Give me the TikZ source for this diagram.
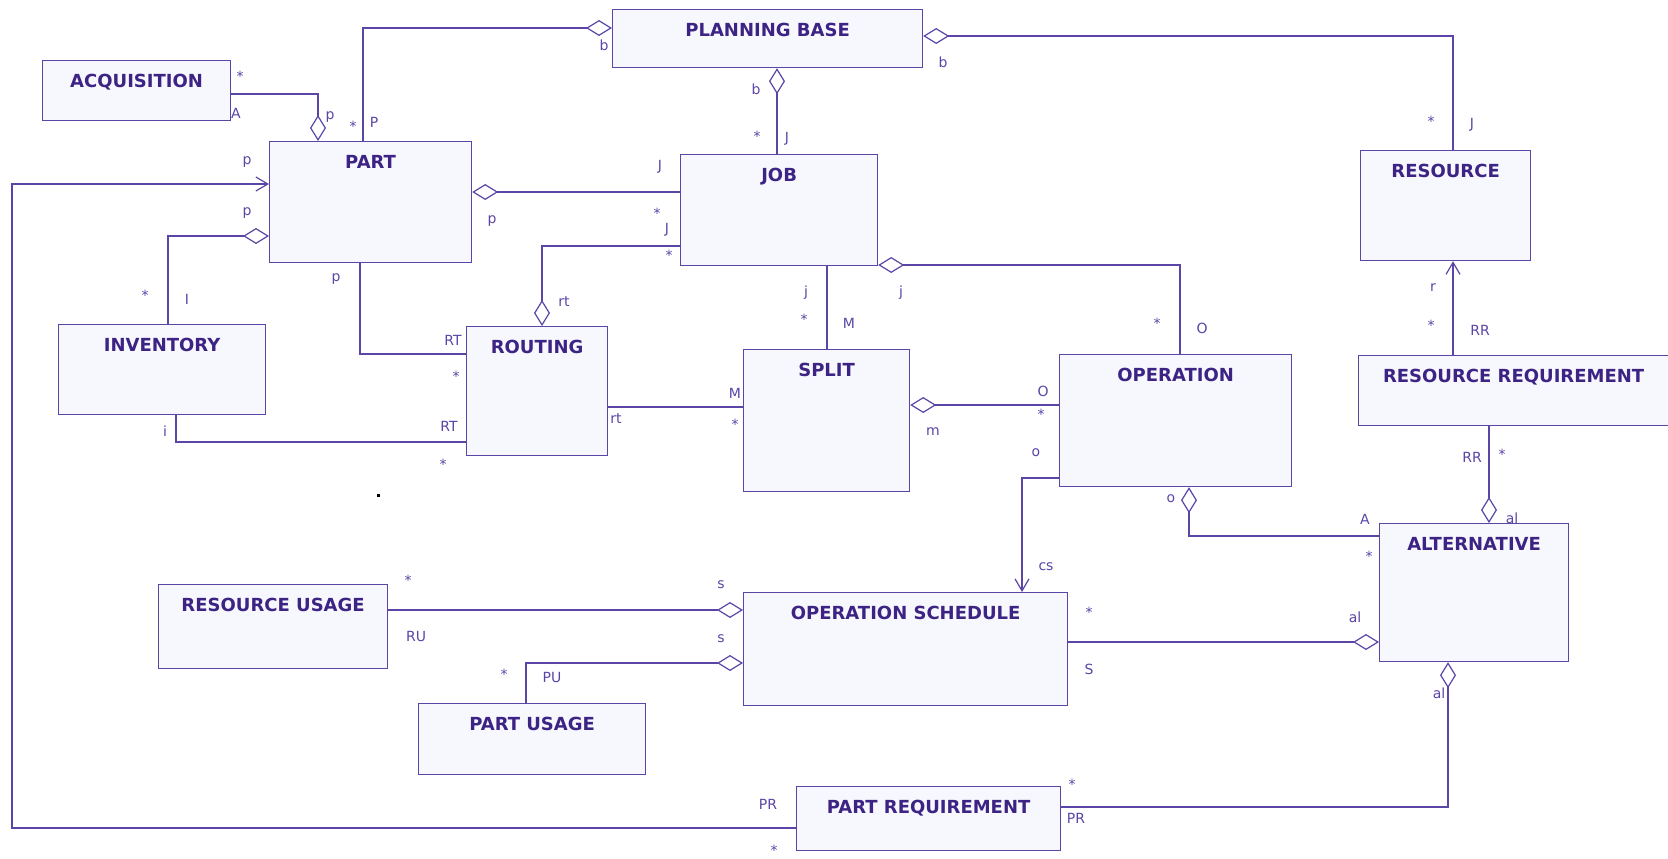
\documentclass[tikz,border=0pt]{standalone}
\usepackage{fontspec}
\setmainfont{DejaVu Sans}
\usetikzlibrary{arrows.meta}
\definecolor{umlline}{HTML}{5B45A6}
\definecolor{umltext}{HTML}{3C2384}
\definecolor{umlfill}{HTML}{F7F8FD}

\begin{document}
\begin{tikzpicture}[x=0.5pt,y=-0.5pt,
  cls/.style={draw=umlline,fill=umlfill,line width=0.6pt,anchor=north west,inner sep=0pt},
  ttl/.style={font=\bfseries\fontsize{9}{10}\selectfont,text=umltext,inner sep=0pt},
  lbl/.style={font=\fontsize{7}{8}\selectfont,text=umlline,inner sep=0pt},
  assoc/.style={draw=umlline,line width=0.6pt},
  agg/.style={assoc,-{Diamond[open,length=13pt,width=8pt]}},
  nav/.style={assoc,-{Straight Barb[length=6pt,width=7pt]}}]
\useasboundingbox (0,0) rectangle (1668,858);
% classes
\foreach \nm/\xa/\ya/\xb/\yb/\txt in {acq/42/60/230/120/ACQUISITION,
    part/269/141/471/262/PART, pb/612/9/922/67/PLANNING BASE,
    job/680/154/877/265/JOB, res/1360/150/1530/260/RESOURCE,
    inv/58/324/265/414/INVENTORY, rout/466/326/607/455/ROUTING,
    split/743/349/909/491/SPLIT, oper/1059/354/1291/486/OPERATION,
    rreq/1358/355/1668/425/RESOURCE REQUIREMENT, alt/1379/523/1568/661/ALTERNATIVE,
    ruse/158/584/387/668/RESOURCE USAGE, puse/418/703/645/774/PART USAGE,
    osch/743/592/1067/705/OPERATION SCHEDULE, preq/796/786/1060/850/PART REQUIREMENT}
  \node[cls,minimum width={(\xb-\xa)*0.5pt},minimum height={(\yb-\ya)*0.5pt},
        label={[ttl,anchor=north,yshift=-7pt]north:\txt}] (\nm) at (\xa,\ya) {};
% associations
\draw[agg] (acq.east |- 0,94) -| (part.north -| 318,0);
\draw[agg] (part.north -| 363,0) |- (pb.west |- 0,28);
\draw[agg] (res.north -| 1453,0) |- (pb.east |- 0,36);
\draw[agg] (job.north -| 777,0) -- (pb.south -| 777,0);
\draw[agg] (job.west |- 0,192) -- (part.east |- 0,192);
\draw[agg] (job.west |- 0,246) -| (rout.north -| 542,0);
\draw[assoc] (part.south -| 360,0) |- (rout.west |- 0,354);
\draw[agg] (inv.north -| 168,0) |- (part.west |- 0,236);
\draw[assoc] (inv.south -| 176,0) |- (rout.west |- 0,442);
\draw[assoc] (rout.east |- 0,407) -- (split.west |- 0,407);
\draw[assoc] (job.south -| 827,0) -- (split.north -| 827,0);
\draw[agg] (oper.north -| 1180,0) |- (job.east |- 0,265);
\draw[agg] (oper.west |- 0,405) -- (split.east |- 0,405);
\draw[nav] (oper.west |- 0,478) -| (osch.north -| 1022,0);
\draw[agg] (alt.west |- 0,536) -| (oper.south -| 1189,0);
\draw[nav] (rreq.north -| 1453,0) -- (res.south -| 1453,0);
\draw[agg] (rreq.south -| 1489,0) -- (alt.north -| 1489,0);
\draw[agg] (osch.east |- 0,642) -- (alt.west |- 0,642);
\draw[agg] (ruse.east |- 0,610) -- (osch.west |- 0,610);
\draw[agg] (puse.north -| 526,0) |- (osch.west |- 0,663);
\draw[agg] (preq.east |- 0,807) -| (alt.south -| 1448,0);
\coordinate (loopx) at (12,0);
\draw[nav] (preq.west |- 0,828) -| (loopx |- 0,184) -- (part.west |- 0,184);
% role names and multiplicities
\foreach \t/\x/\y [count=\i] in {*/240/76, A/236/113, p/330/117, */353/126, P/374/122,
    b/604/45, b/943/62, */1431/121, J/1472/125, b/756/89, */757/136, J/787/139,
    p/492/221, J/660/167, */657/213, J/667/230, */669/255, rt/564/302,
    p/336/279, RT/453/340, */456/376, p/247/213, p/247/162, */145/295, I/187/299,
    i/165/431, RT/449/426, */443/464, rt/616/419, M/735/393, */735/424,
    j/806/293, */804/319, M/849/323, j/901/293, */1157/323, O/1202/328,
    m/933/432, O/1043/391, */1041/414, o/1036/453, cs/1046/567,
    o/1171/499, A/1365/519, */1369/556, r/1433/288, */1431/325, RR/1480/330,
    RR/1472/457, */1502/454, al/1512/518, */1089/612, S/1089/669, al/1355/617,
    */408/580, RU/416/636, s/721/585, */504/674, PU/552/677, s/721/639,
    */1072/784, PR/1076/818, al/1439/693, PR/768/804, */774/850}
  \node[lbl] (m\i) at (\x,\y) {\t};
\fill (377,494) rectangle (380,497);
\end{tikzpicture}
\end{document}
